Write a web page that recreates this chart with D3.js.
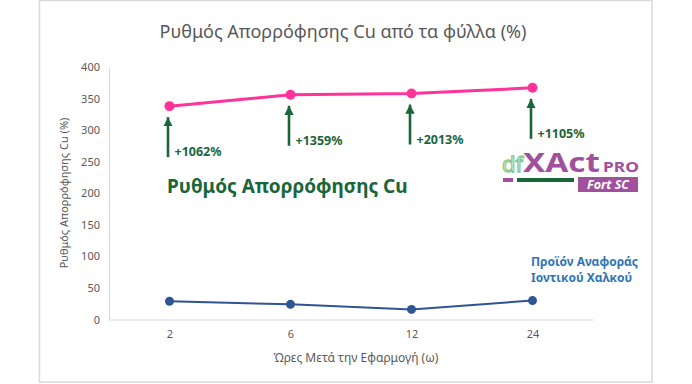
<!DOCTYPE html>
<html>
<head>
<meta charset="utf-8">
<script src="https://cdn.jsdelivr.net/npm/d3@7"></script>
<style>
  body { margin: 0; background: #fff; }
  text { font-family: "Noto Sans", "Open Sans", sans-serif; }
</style>
</head>
<body>
<div id="viz"></div>
<script>
// chart data
const hours = ["2", "6", "12", "24"];
const xactValues = [338, 356, 358, 367];
const refValues = [29, 24, 16, 30];
const increaseLabels = ["+1062%", "+1359%", "+2013%", "+1105%"];
const yTicks = [0, 50, 100, 150, 200, 250, 300, 350, 400];

const width = 692, height = 384;
const pink = "#ff3399", blue = "#2f5597", green = "#19663a", purple = "#a0509c", grey = "#595959";

const svg = d3.select("#viz").append("svg")
  .attr("width", width)
  .attr("height", height);

// outer frame
svg.append("rect")
  .attr("x", 39.5).attr("y", 0.5)
  .attr("width", 612.5).attr("height", 381.5)
  .attr("fill", "#fff")
  .attr("stroke", "#d9d9d9")
  .attr("stroke-width", 1.5);

const x = d3.scalePoint().domain(hours).range([109, 593]).padding(0.5);
const y = d3.scaleLinear().domain([0, 400]).range([319.5, 67]);

// title
svg.append("text")
  .attr("x", 343).attr("y", 38)
  .attr("text-anchor", "middle")
  .attr("font-size", 18)
  .attr("fill", grey)
  .text("Ρυθμός Απορρόφησης  Cu από τα φύλλα (%)");

// axes
const yAxis = svg.append("g")
  .attr("transform", "translate(109,0)")
  .call(d3.axisLeft(y).tickValues(yTicks).tickSize(0).tickPadding(9));
const xAxis = svg.append("g")
  .attr("transform", "translate(0,319.5)")
  .call(d3.axisBottom(x).tickSize(0).tickPadding(11));
[yAxis, xAxis].forEach(g => {
  g.select(".domain").attr("stroke", "#d9d9d9").attr("stroke-width", 1.2);
  g.selectAll("text")
    .attr("fill", grey)
    .attr("font-size", 11)
    .style("font-family", '"Noto Sans", sans-serif');
});

// axis titles
svg.append("text")
  .attr("transform", "translate(68,193) rotate(-90)")
  .attr("text-anchor", "middle")
  .attr("font-size", 11)
  .attr("fill", grey)
  .text("Ρυθμός Απορρόφησης Cu  (%)");

svg.append("text")
  .attr("x", 356).attr("y", 362)
  .attr("text-anchor", "middle")
  .attr("font-size", 12)
  .attr("fill", grey)
  .text("Ώρες Μετά την Εφαρμογή (ω)");

// lines
const line = d3.line().x((d, i) => x(hours[i])).y(d => y(d));

svg.append("path")
  .datum(refValues)
  .attr("d", line)
  .attr("fill", "none")
  .attr("stroke", blue)
  .attr("stroke-width", 2);
svg.selectAll(".refdot")
  .data(refValues)
  .enter().append("circle")
  .attr("cx", (d, i) => x(hours[i]))
  .attr("cy", d => y(d))
  .attr("r", 4.5)
  .attr("fill", blue);

svg.append("path")
  .datum(xactValues)
  .attr("d", line)
  .attr("fill", "none")
  .attr("stroke", pink)
  .attr("stroke-width", 3);
svg.selectAll(".xactdot")
  .data(xactValues)
  .enter().append("circle")
  .attr("cx", (d, i) => x(hours[i]))
  .attr("cy", d => y(d))
  .attr("r", 5)
  .attr("fill", pink);

// green arrows under the pink points
svg.append("defs").append("marker")
  .attr("id", "arrow-up")
  .attr("viewBox", "0 -5 10 10")
  .attr("refX", 10)
  .attr("refY", 0)
  .attr("markerWidth", 3.6)
  .attr("markerHeight", 3.6)
  .attr("markerUnits", "strokeWidth")
  .attr("orient", "auto")
  .append("path")
  .attr("d", "M0,-5L10,0L0,5Z")
  .attr("fill", green);

const arrows = svg.append("g").selectAll("g")
  .data(xactValues)
  .enter().append("g");

arrows.append("line")
  .attr("x1", (d, i) => x(hours[i]) - 1.5)
  .attr("x2", (d, i) => x(hours[i]) - 1.5)
  .attr("y1", d => y(d) + 51)
  .attr("y2", d => y(d) + 11)
  .attr("stroke", green)
  .attr("stroke-width", 2.6)
  .attr("marker-end", "url(#arrow-up)");

arrows.append("text")
  .attr("x", (d, i) => x(hours[i]) + 5)
  .attr("y", d => y(d) + 50)
  .attr("font-size", 12.5)
  .attr("font-weight", "bold")
  .attr("fill", green)
  .text((d, i) => increaseLabels[i]);

// big green label
svg.append("text")
  .attr("x", 167).attr("y", 193)
  .attr("font-size", 19)
  .attr("font-weight", "bold")
  .attr("fill", green)
  .text("Ρυθμός Απορρόφησης Cu");

// reference product label
const refLabel = svg.append("text")
  .attr("font-size", 12)
  .attr("font-weight", "bold")
  .attr("fill", "#2e75b6");
refLabel.append("tspan").attr("x", 531).attr("y", 266).text("Προϊόν Αναφοράς");
refLabel.append("tspan").attr("x", 531).attr("y", 282).text("Ιοντικού Χαλκού");

// product logo
const logo = svg.append("g");
logo.append("text")
  .attr("x", 502).attr("y", 172)
  .attr("font-size", 22)
  .attr("textLength", 21)
  .attr("lengthAdjust", "spacingAndGlyphs")
  .attr("fill", "#fff")
  .attr("stroke", "#8cc68c")
  .attr("stroke-width", 1.3)
  .text("df");
logo.append("text")
  .attr("x", 523).attr("y", 172)
  .attr("font-size", 26)
  .attr("font-weight", "bold")
  .attr("textLength", 77)
  .attr("lengthAdjust", "spacingAndGlyphs")
  .attr("fill", purple)
  .text("XAct");
logo.append("text")
  .attr("x", 603).attr("y", 172)
  .attr("font-size", 15)
  .attr("font-weight", "bold")
  .attr("textLength", 36)
  .attr("lengthAdjust", "spacingAndGlyphs")
  .attr("fill", purple)
  .text("PRO");
logo.append("rect")
  .attr("x", 503).attr("y", 178).attr("width", 10).attr("height", 4)
  .attr("fill", purple);
logo.append("rect")
  .attr("x", 517).attr("y", 178).attr("width", 57).attr("height", 4)
  .attr("fill", green);
logo.append("rect")
  .attr("x", 578).attr("y", 177).attr("width", 60).attr("height", 15)
  .attr("fill", purple);
logo.append("text")
  .attr("x", 608).attr("y", 189)
  .attr("text-anchor", "middle")
  .attr("font-size", 12.5)
  .attr("font-weight", "bold")
  .attr("font-style", "italic")
  .attr("fill", "#fff")
  .text("Fort SC");
</script>
</body>
</html>
